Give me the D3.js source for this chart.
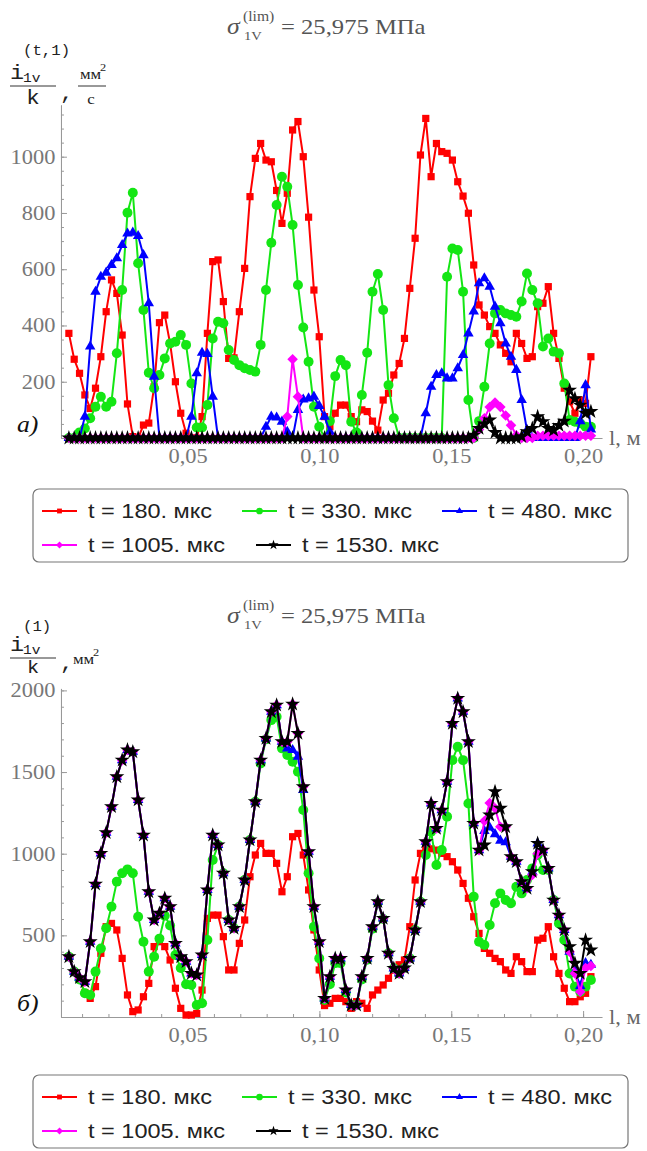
<!DOCTYPE html>
<html>
<head>
<meta charset="utf-8">
<script src="https://cdn.jsdelivr.net/npm/d3@7"></script>
<style>
  body { margin: 0; background: #fff; }
</style>
</head>
<body>
<script>
// positions along the specimen, m
const lValues = [
  0.00500, 0.00702, 0.00904, 0.01106, 0.01308, 0.01510, 0.01712, 0.01914, 0.02116, 0.02318,
  0.02520, 0.02722, 0.02924, 0.03126, 0.03328, 0.03530, 0.03732, 0.03934, 0.04136, 0.04338,
  0.04540, 0.04742, 0.04944, 0.05146, 0.05348, 0.05550, 0.05752, 0.05954, 0.06156, 0.06358,
  0.06560, 0.06762, 0.06964, 0.07166, 0.07368, 0.07570, 0.07772, 0.07974, 0.08176, 0.08378,
  0.08580, 0.08782, 0.08984, 0.09186, 0.09388, 0.09590, 0.09792, 0.09994, 0.10196, 0.10398,
  0.10600, 0.10802, 0.11004, 0.11206, 0.11408, 0.11610, 0.11812, 0.12014, 0.12216, 0.12418,
  0.12620, 0.12822, 0.13024, 0.13226, 0.13428, 0.13630, 0.13832, 0.14034, 0.14236, 0.14438,
  0.14640, 0.14842, 0.15044, 0.15246, 0.15448, 0.15650, 0.15852, 0.16054, 0.16256, 0.16458,
  0.16660, 0.16862, 0.17064, 0.17266, 0.17468, 0.17670, 0.17872, 0.18074, 0.18276, 0.18478,
  0.18680, 0.18882, 0.19084, 0.19286, 0.19488, 0.19690, 0.19892, 0.20094, 0.20296
];

const seriesNames = ["t = 180. мкс", "t = 330. мкс", "t = 480. мкс", "t = 1005. мкс", "t = 1530. мкс"];

// panel a) : i^(t,1)/k, mm^2/s
const rateRed = [
  372, 280, 230, 153, 105, 177, 289, 449, 562, 514,
  366, 121, 5, 0, 46, 53, 182, 410, 437, 336,
  200, 88, 17, 0, 0, 76, 372, 627, 633, 485,
  283, 285, 449, 603, 858, 994, 1047, 988, 982, 880,
  763, 870, 1095, 1125, 1000, 785, 526, 360, 76, 40,
  88, 117, 117, 76, 58, 100, 94, 60, 28, 135,
  159, 224, 265, 354, 532, 710, 1006, 1136, 929, 1047,
  1018, 1012, 988, 911, 860, 799, 615, 473, 437, 396,
  372, 331, 301, 271, 372, 336, 283, 289, 467, 479,
  538, 372, 283, 177, 129, 88, 135, 123, 289
];
const rateGreen = [
  0, 0, 20, 34, 70, 111, 147, 111, 129, 301,
  526, 801, 872, 621, 455, 232, 177, 224, 283, 336,
  342, 366, 331, 194, 37, 37, 117, 354, 413, 408,
  313, 277, 259, 248, 242, 236, 331, 526, 694, 828,
  929, 893, 757, 544, 393, 271, 111, 40, 0, 60,
  220, 277, 259, 58, 20, 153, 303, 520, 583, 455,
  188, 70, 0, 0, 0, 0, 0, 0, 0, 0,
  0, 573, 674, 668, 520, 135, 0, 60, 182, 336,
  443, 455, 443, 437, 431, 485, 585, 526, 479, 325,
  354, 307, 301, 194, 64, 58, 52, 40, 40
];
const rateBlue = [
  0, 0, 0, 76, 325, 520, 573, 588, 615, 639,
  686, 727, 730, 718, 650, 479, 218, 0, 0, 0,
  0, 0, 0, 76, 230, 303, 299, 147, 0, 0,
  0, 0, 0, 0, 0, 0, 0, 40, 76, 73,
  58, 22, 0, 100, 137, 141, 147, 114, 76, 22,
  0, 0, 0, 0, 0, 0, 0, 0, 0, 0,
  0, 0, 0, 0, 0, 0, 0, 88, 182, 224,
  230, 212, 212, 248, 295, 372, 450, 550, 568, 538,
  467, 408, 336, 289, 242, 135, 28, 0, 0, 0,
  0, 0, 0, 0, 0, 0, 60, 188, 30
];
const rateMagenta = [
  0, 0, 0, 0, 0, 0, 0, 0, 0, 0,
  0, 0, 0, 0, 0, 0, 0, 0, 0, 0,
  0, 0, 0, 0, 0, 0, 0, 0, 0, 0,
  0, 0, 0, 0, 0, 0, 0, 0, 0, 0,
  0, 76, 280, 147, 0, 0, 0, 0, 0, 0,
  0, 0, 0, 0, 0, 0, 0, 0, 0, 0,
  0, 0, 0, 0, 0, 0, 0, 0, 0, 0,
  0, 0, 0, 0, 0, 0, 0, 30, 70, 110,
  126, 110, 80, 45, 10, 0, 0, 0, 8, 8,
  8, 8, 8, 8, 8, 8, 8, 8, 8
];
const rateBlack = [
  0, 0, 0, 0, 0, 0, 0, 0, 0, 0,
  0, 0, 0, 0, 0, 0, 0, 0, 0, 0,
  0, 0, 0, 0, 0, 0, 0, 0, 0, 0,
  0, 0, 0, 0, 0, 0, 0, 0, 0, 0,
  0, 0, 0, 0, 0, 0, 0, 0, 0, 0,
  0, 0, 0, 0, 0, 0, 0, 0, 0, 0,
  0, 0, 0, 0, 0, 0, 0, 0, 0, 0,
  0, 0, 0, 0, 0, 0, 10, 34, 50, 64,
  20, 0, 0, 0, 0, 5, 22, 34, 76, 58,
  34, 28, 45, 60, 170, 140, 117, 88, 94
];

// panel б) : i^(1)/k, mm^2
const cumRed = [
  369, 278, 230, 150, 114, 186, 390, 553, 573, 533,
  359, 135, 33, 43, 124, 206, 431, 461, 431, 349,
  176, 53, 12, 12, 22, 165, 604, 624, 624, 492,
  288, 288, 451, 594, 859, 992, 1063, 1002, 1002, 941,
  767, 859, 1104, 1124, 992, 778, 533, 288, 70, 84,
  114, 114, 94, 53, 94, 84, 53, 135, 165, 196,
  237, 288, 320, 349, 553, 839, 1002, 1033, 1030, 1022,
  1002, 982, 951, 900, 818, 727, 614, 512, 420, 390,
  359, 339, 288, 267, 369, 339, 278, 278, 471, 482,
  553, 369, 267, 176, 94, 94, 124, 145, 247
];
const cumGreen = [
  369, 278, 230, 145, 135, 278, 420, 543, 676, 829,
  880, 904, 880, 614, 461, 278, 369, 480, 620, 560,
  380, 300, 200, 196, 73, 84, 471, 961, 1053, 880,
  594, 543, 676, 839, 1084, 1318, 1553, 1700, 1818, 1839,
  1645, 1604, 1563, 1502, 1267, 880, 553, 359, 104, 200,
  330, 330, 150, 73, 73, 230, 350, 540, 700, 600,
  390, 298, 267, 300, 359, 533, 706, 992, 1135, 931,
  1022, 1227, 1573, 1655, 1573, 1308, 737, 461, 441, 563,
  696, 757, 716, 696, 798, 757, 839, 910, 992, 900,
  900, 716, 573, 471, 267, 186, 155, 186, 227
];
const cumBlue = [
  369, 278, 241, 216, 461, 814, 1002, 1129, 1288, 1471,
  1573, 1635, 1624, 1329, 1114, 767, 594, 635, 727, 676,
  451, 369, 339, 267, 257, 380, 778, 1114, 1053, 880,
  594, 543, 676, 839, 1084, 1318, 1573, 1706, 1869, 1910,
  1686, 1645, 1635, 1594, 1390, 1012, 676, 461, 114, 247,
  359, 359, 165, 73, 73, 247, 359, 553, 706, 604,
  390, 298, 267, 300, 359, 533, 706, 1073, 1308, 1155,
  1267, 1441, 1798, 1951, 1869, 1686, 1186, 1022, 1140, 1160,
  1120, 1080, 1070, 982, 951, 829, 788, 890, 1063, 1022,
  910, 716, 624, 533, 400, 280, 190, 330, 320
];
const cumMagenta = [
  369, 278, 241, 216, 461, 814, 1002, 1129, 1288, 1471,
  1573, 1635, 1624, 1329, 1114, 767, 594, 635, 727, 676,
  451, 369, 339, 267, 257, 380, 778, 1114, 1053, 880,
  594, 543, 676, 839, 1084, 1318, 1573, 1706, 1869, 1910,
  1686, 1686, 1916, 1737, 1410, 1012, 676, 461, 114, 247,
  359, 359, 165, 73, 73, 247, 359, 553, 706, 604,
  390, 298, 267, 300, 359, 533, 706, 1073, 1308, 1155,
  1267, 1441, 1798, 1951, 1869, 1686, 1186, 1022, 1200, 1310,
  1278, 1165, 1165, 982, 951, 829, 788, 870, 1000, 1022,
  910, 716, 624, 533, 400, 267, 155, 300, 312
];
const cumBlack = [
  369, 278, 241, 216, 461, 814, 1002, 1129, 1288, 1471,
  1573, 1635, 1624, 1329, 1114, 767, 594, 635, 727, 676,
  451, 369, 339, 267, 257, 380, 778, 1114, 1053, 880,
  594, 543, 676, 839, 1084, 1318, 1573, 1706, 1869, 1910,
  1686, 1686, 1916, 1737, 1410, 1012, 676, 461, 114, 247,
  359, 359, 165, 73, 73, 247, 359, 553, 706, 604,
  390, 298, 267, 300, 359, 533, 706, 1073, 1308, 1155,
  1267, 1441, 1798, 1951, 1869, 1686, 1186, 1022, 1053, 1237,
  1380, 1278, 1165, 982, 951, 829, 788, 890, 1063, 1022,
  910, 716, 624, 533, 431, 329, 267, 471, 410
];

const yTicksA = [200, 400, 600, 800, 1000];
const yTicksB = [500, 1000, 1500, 2000];
const xTicks = [0.05, 0.10, 0.15, 0.20];

// styles
const SERIF = "'Liberation Serif', 'Times New Roman', serif";
const SANS = "'Liberation Sans', Arial, sans-serif";
const MONO = "'Liberation Mono', 'Courier New', monospace";
const colors = ["#ff0000", "#14e614", "#0000ff", "#ff00ff", "#000000"];
const diamond = {
  draw(ctx, size) {
    const r = Math.sqrt(size / 2);
    ctx.moveTo(0, -r); ctx.lineTo(r, 0); ctx.lineTo(0, r); ctx.lineTo(-r, 0); ctx.closePath();
  }
};
const symbols = [d3.symbolSquare, d3.symbolCircle, d3.symbolTriangle, diamond, d3.symbolStar];
const symSizes = [52, 78, 48, 56, 70];
const stretch = 1.12;   // the original figure is a bit wider than tall

const width = 647, height = 1151;
const svg = d3.select("body").append("svg")
  .attr("width", width)
  .attr("height", height);

// x scale shared by both panels
const x = d3.scaleLinear().domain([0, 0.2]).range([55.7, 583.1]);
const xAxisDomain = [0.002, 0.2071];

function fmtComma(d) { return d.toFixed(2).replace(".", ","); }

// text that is squeezed horizontally around its own anchor point
function wideText(parent, xx, yy, str, opts) {
  const t = parent.append("text")
    .attr("transform", `translate(${xx},${yy}) scale(${stretch},1)`)
    .attr("font-family", opts.family || SERIF)
    .attr("font-size", opts.size)
    .attr("fill", opts.fill || "#222")
    .attr("text-anchor", opts.anchor || "start")
    .text(str);
  if (opts.italic) t.attr("font-style", "italic");
  if (opts.dy) t.attr("dy", opts.dy);
  return t;
}

function drawPanel(p) {
  const y = d3.scaleLinear().domain([0, p.yRef]).range([p.y0, p.yRefPx]);
  const g = svg.append("g");

  // y axis (ticks point inward)
  const yAx = y.copy().domain([0, p.yTop]).range([y(0), y(p.yTop)]);
  const xAtAxis = x(xAxisDomain[0]);

  g.append("g")
    .attr("transform", `translate(${xAtAxis},0)`)
    .call(d3.axisLeft(yAx).tickValues(d3.range(p.minor, p.yTop, p.minor)).tickSizeInner(-3).tickSizeOuter(0).tickFormat(""))
    .call(a => a.selectAll("line,path").attr("stroke", "#999"));

  g.append("g")
    .attr("transform", `translate(${xAtAxis},0)`)
    .call(d3.axisLeft(yAx).tickValues(p.yTicks).tickSizeInner(-6).tickSizeOuter(0).tickPadding(5).tickFormat(d3.format("d")))
    .call(a => a.selectAll("line,path").attr("stroke", "#999"))
    .call(a => a.selectAll("text")
      .attr("fill", "#777").attr("font-size", 20).attr("font-family", SERIF)
      .attr("transform", `scale(${stretch},1)`));

  // x axis
  const xAx = x.copy().domain(xAxisDomain).range([x(xAxisDomain[0]), x(xAxisDomain[1])]);
  g.append("g")
    .attr("transform", `translate(0,${y(0)})`)
    .call(d3.axisBottom(xAx).tickValues(d3.range(0.01, 0.205, 0.01)).tickSizeInner(-3).tickSizeOuter(0).tickFormat(""))
    .call(a => a.selectAll("line,path").attr("stroke", "#999"));
  g.append("g")
    .attr("transform", `translate(0,${y(0)})`)
    .call(d3.axisBottom(xAx).tickValues(xTicks).tickSizeInner(-6).tickSizeOuter(0).tickPadding(11).tickFormat(fmtComma))
    .call(a => a.selectAll("line,path").attr("stroke", "#999"))
    .call(a => a.selectAll("text")
      .attr("fill", "#777").attr("font-size", 20).attr("font-family", SERIF)
      .attr("transform", `scale(${stretch},1)`));

  wideText(g, 609, y(0) + 7, "l, м", { size: 20, fill: "#666" });

  // series
  const line = d3.line()
    .x((d, i) => x(lValues[i]))
    .y(d => y(d));

  p.series.forEach((vals, k) => {
    const sg = g.append("g");
    sg.append("path")
      .attr("d", line(vals))
      .attr("fill", "none")
      .attr("stroke", colors[k])
      .attr("stroke-width", 2)
      .attr("stroke-linejoin", "round");
    sg.selectAll("path.m")
      .data(vals)
      .join("path")
      .attr("class", "m")
      .attr("transform", (d, i) => `translate(${x(lValues[i])},${y(d)})`)
      .attr("d", d3.symbol().type(symbols[k]).size(symSizes[k]))
      .attr("fill", colors[k]);
  });

  // panel letter
  wideText(g, 17, y(0) - 6, p.letter, { size: 23, italic: true, fill: "#111" });

  // title
  wideText(g, 227, p.titleY, "σ", { size: 23, italic: true, fill: "#555" });
  wideText(g, 243, p.titleY - 13, "(lim)", { size: 14, fill: "#555" });
  wideText(g, 244, p.titleY + 6, "1V", { size: 13, fill: "#555" });
  wideText(g, 281, p.titleY, "= 25,975 МПа", { size: 22, fill: "#555" });

  // legend
  const L = g.append("g").attr("transform", `translate(33,${p.legendY})`);
  L.append("rect")
    .attr("width", 595).attr("height", 73).attr("rx", 6)
    .attr("fill", "#fff").attr("stroke", "#777").attr("stroke-width", 1.2);
  const pos = [[9, 22], [209, 22], [409, 22], [9, 56], [223, 56]];
  const item = L.selectAll("g.item")
    .data(seriesNames)
    .join("g")
    .attr("class", "item")
    .attr("transform", (d, i) => `translate(${pos[i][0]},${pos[i][1]})`);
  item.append("line")
    .attr("x1", 0).attr("x2", 35)
    .attr("stroke", (d, i) => colors[i]).attr("stroke-width", 2);
  item.append("path")
    .attr("transform", "translate(17.5,0)")
    .attr("d", (d, i) => d3.symbol().type(symbols[i]).size(symSizes[i] * 0.45)())
    .attr("fill", (d, i) => colors[i]);
  item.each(function (d) {
    wideText(d3.select(this), 46, 0, d, { size: 21, family: SANS, fill: "#222", dy: "0.35em" });
  });
}

// y-axis labels
const labA = svg.append("g");
wideText(labA, 23, 55, "(t,1)", { size: 14, family: MONO });
wideText(labA, 10, 79, "i", { size: 21, family: MONO });
wideText(labA, 23, 82, "1v", { size: 13, family: MONO });
labA.append("line").attr("x1", 10).attr("x2", 56).attr("y1", 86).attr("y2", 86).attr("stroke", "#333");
wideText(labA, 33, 104, "k", { size: 20, family: MONO, anchor: "middle" });
wideText(labA, 60, 99, ",", { size: 20, family: MONO });
wideText(labA, 80, 79, "мм", { size: 15 });
wideText(labA, 100, 71, "2", { size: 11 });
labA.append("line").attr("x1", 78).attr("x2", 106).attr("y1", 86).attr("y2", 86).attr("stroke", "#333");
wideText(labA, 91, 104, "с", { size: 15, anchor: "middle" });

const labB = svg.append("g");
wideText(labB, 23, 631, "(1)", { size: 14, family: MONO });
wideText(labB, 10, 651, "i", { size: 21, family: MONO });
wideText(labB, 23, 654, "1v", { size: 13, family: MONO });
labB.append("line").attr("x1", 10).attr("x2", 56).attr("y1", 658).attr("y2", 658).attr("stroke", "#333");
wideText(labB, 33, 673, "k", { size: 18, family: MONO, anchor: "middle" });
wideText(labB, 60, 669, ",", { size: 20, family: MONO });
wideText(labB, 73, 664, "мм", { size: 15 });
wideText(labB, 93, 656, "2", { size: 11 });

drawPanel({
  y0: 438, yRef: 1000, yRefPx: 156.7, yTop: 1184, minor: 50, yTicks: yTicksA,
  series: [rateRed, rateGreen, rateBlue, rateMagenta, rateBlack],
  letter: "a)", titleY: 34, legendY: 489
});

drawPanel({
  y0: 1017, yRef: 2000, yRefPx: 690.4, yTop: 2012, minor: 100, yTicks: yTicksB,
  series: [cumRed, cumGreen, cumBlue, cumMagenta, cumBlack],
  letter: "б)", titleY: 623, legendY: 1075
});
</script>
</body>
</html>
